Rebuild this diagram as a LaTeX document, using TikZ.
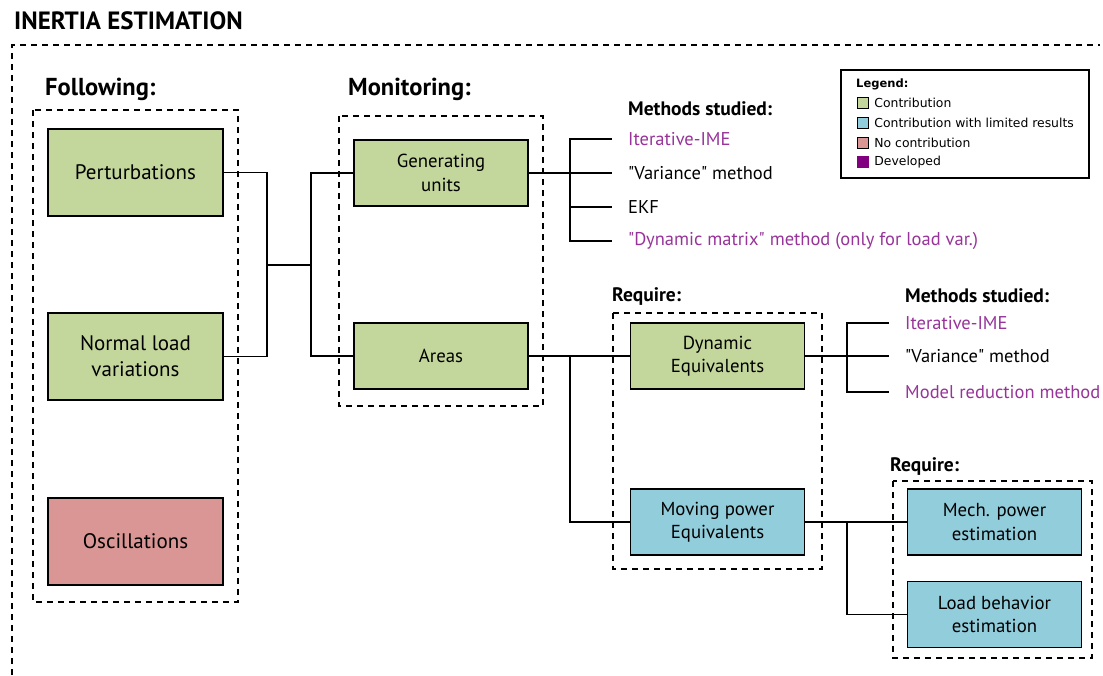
\documentclass[tikz,border=0pt]{standalone}
\usepackage{fontspec}
\setmainfont{PT Sans}
\newfontfamily\legendfont{DejaVu Sans}
\usetikzlibrary{positioning}

\definecolor{contribgreen}{HTML}{C3D69B}
\definecolor{limitedblue}{HTML}{92CDDC}
\definecolor{nocontribred}{HTML}{D99694}
\definecolor{developed}{HTML}{800080}
\definecolor{devtext}{HTML}{973399}

\begin{document}
\begin{tikzpicture}[x=1pt, y=-1pt,
  block/.style={draw, line width=1.6pt, minimum width=175pt, align=center, font=\fontsize{21}{26}\selectfont},
  bigblock/.style={block, minimum height=87pt},
  smallblock/.style={block, minimum width=174pt, minimum height=66pt, font=\fontsize{18.8}{23.5}\selectfont},
  heading/.style={anchor=west, inner sep=0pt, font=\fontsize{24.5}{28}\selectfont\bfseries},
  subheading/.style={anchor=west, inner sep=0pt, font=\fontsize{19.5}{22}\selectfont\bfseries},
  method/.style={anchor=west, inner ysep=0pt, inner xsep=16pt, font=\fontsize{18.5}{22}\selectfont},
  devmethod/.style={method, text=devtext},
  frame/.style={draw, dashed, line width=1.7pt, dash pattern=on 6pt off 5pt},
  conn/.style={draw, line width=1.1pt},
  legbox/.style={draw, line width=1.4pt, minimum size=11pt, inner sep=0pt},
  legtext/.style={anchor=west, inner sep=0pt, font=\legendfont\fontsize{12.4}{14}\selectfont}
]
\useasboundingbox (0,0) rectangle (1103,675);

% Title and outer frame
\node[heading, font=\fontsize{25}{28}\selectfont\bfseries] (title) at (14,21) {INERTIA ESTIMATION};
\draw[frame] (12,675) -- (12,45) -- (1100,45);

% Following
\node[heading] (following) at (45,89) {Following:};
\draw[frame] (33,110) rectangle (238,602);
\node[bigblock, fill=contribgreen] (pert) at (135.5,172.5) {Perturbations};
\node[bigblock, fill=contribgreen] (nlv) at (135.5,356.5) {Normal load\\variations};
\node[bigblock, fill=nocontribred] (osc) at (135.5,541.5) {Oscillations};

% Monitoring
\node[heading] (monitoring) at (348,89) {Monitoring:};
\draw[frame] (339,116) rectangle (543,406);
\node[smallblock, fill=contribgreen] (gu) at (441,173) {Generating\\units};
\node[smallblock, fill=contribgreen] (areas) at (441,356) {Areas};

% Methods for generating units
\node[subheading] (ms1) at (628,109) {Methods studied:};
\node[devmethod] (m1) at (612,139) {Iterative-IME};
\node[method] (m2) at (612,173) {\textquotedbl Variance\textquotedbl{} method};
\node[method] (m3) at (612,207) {EKF};
\node[devmethod] (m4) at (612,241) {\textquotedbl Dynamic matrix\textquotedbl{} method (only for load var.)};

% Require (areas)
\node[subheading] (req1) at (612,297) {Require:};
\draw[frame] (613,313) rectangle (822,569);
\node[smallblock, fill=contribgreen] (dyn) at (717.5,356) {Dynamic\\Equivalents};
\node[smallblock, fill=limitedblue] (mov) at (717.5,522) {Moving power\\Equivalents};

% Methods for dynamic equivalents
\node[subheading] (ms2) at (905,296) {Methods studied:};
\node[devmethod] (n1) at (889,323) {Iterative-IME};
\node[method] (n2) at (889,356) {\textquotedbl Variance\textquotedbl{} method};
\node[devmethod] (n3) at (889,392) {Model reduction method};

% Require (moving power)
\node[subheading] (req2) at (890,467) {Require:};
\draw[frame] (893,481) rectangle (1092,658);
\node[smallblock, fill=limitedblue] (mech) at (994.5,522) {Mech. power\\estimation};
\node[smallblock, fill=limitedblue] (load) at (994.5,614.5) {Load behavior\\estimation};

% Connectors
\coordinate (jl) at (267,265);
\coordinate (jr) at (311,265);
\draw[conn] (pert.east) -| (jl) |- (nlv.east);
\draw[conn] (jl) -- (jr);
\draw[conn] (gu.west) -| (jr) |- (areas.west);

\coordinate (jg) at (570,173);
\draw[conn] (gu.east) -- (m2.west);
\draw[conn] (m1.west) -| (jg) |- (m4.west);
\draw[conn] (jg |- m3.west) -- (m3.west);

\coordinate (ja) at (570,356);
\draw[conn] (areas.east) -- (dyn.west);
\draw[conn] (ja) |- (mov.west);

\coordinate (jd) at (847,356);
\draw[conn] (dyn.east) -- (n2.west);
\draw[conn] (n1.west) -| (jd) |- (n3.west);

\coordinate (jm) at (847,522);
\draw[conn] (mov.east) -- (mech.west);
\draw[conn] (jm) |- (load.west);

% Legend
\draw[line width=2pt] (841,70) rectangle (1089,178);
\node[legtext, font=\legendfont\fontsize{11.5}{13}\selectfont\bfseries] (legtitle) at (856,84) {Legend:};
\node[legbox, fill=contribgreen] (lg1) at (863,103) {};
\node[legtext, right=5pt of lg1] {Contribution};
\node[legbox, fill=limitedblue] (lg2) at (863,123) {};
\node[legtext, right=5pt of lg2] {Contribution with limited results};
\node[legbox, fill=nocontribred] (lg3) at (863,143) {};
\node[legtext, right=5pt of lg3] {No contribution};
\node[minimum size=12pt, inner sep=0pt, fill=developed] (lg4) at (863,162) {};
\node[legtext, right=5pt of lg4] {Developed};

\end{tikzpicture}
\end{document}
